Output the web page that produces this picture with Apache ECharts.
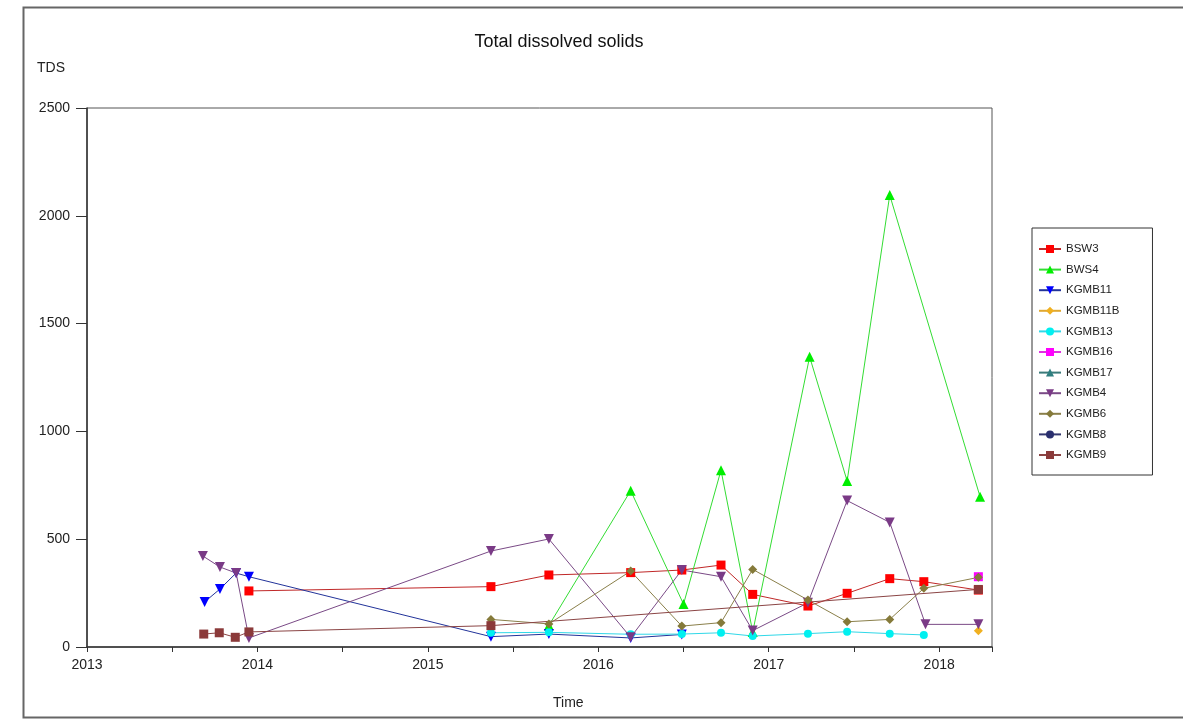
<!DOCTYPE html>
<html>
<head>
<meta charset="utf-8">
<script src="https://cdn.jsdelivr.net/npm/echarts@6/dist/echarts.min.js"></script>
<style>
html,body{margin:0;padding:0;background:#fff;}
#chart{width:1183px;height:719px;}
</style>
</head>
<body>
<div id="chart"></div>
<script>
// ---- data (decimal years, TDS) ----
const yearTicks = [2013, 2014, 2015, 2016, 2017, 2018];
const tdsTicks = [0, 500, 1000, 1500, 2000, 2500];

const bsw3Time = [2013.95, 2015.37, 2015.71, 2016.19, 2016.49, 2016.72, 2016.906, 2017.23, 2017.46, 2017.71, 2017.91, 2018.23];
const bsw3Tds  = [260, 280, 334, 345, 357, 380, 244, 190, 249, 317, 303, 264];

const bws4Time = [2015.71, 2016.19, 2016.5, 2016.72, 2016.906, 2017.24, 2017.46, 2017.71, 2018.24];
const bws4Tds  = [100, 725, 199, 820, 70, 1346, 770, 2096, 697];

const kgmb11Time = [2013.69, 2013.78, 2013.875, 2013.95, 2015.37, 2015.71, 2016.19, 2016.49];
const kgmb11Tds  = [209, 269, 343, 326, 48, 60, 42, 58];

const kgmb11bTime = [2018.23];
const kgmb11bTds  = [75];

const kgmb13Time = [2015.37, 2015.71, 2016.19, 2016.49, 2016.72, 2016.906, 2017.23, 2017.46, 2017.71, 2017.91];
const kgmb13Tds  = [66, 68, 59, 60, 66, 51, 62, 71, 62, 56];

const kgmb16Time = [2018.23];
const kgmb16Tds  = [326];

const kgmb17Time = [];
const kgmb17Tds  = [];

const kgmb4Time = [2013.68, 2013.78, 2013.875, 2013.95, 2015.37, 2015.71, 2016.19, 2016.49, 2016.72, 2016.906, 2017.23, 2017.46, 2017.71, 2017.92, 2018.23];
const kgmb4Tds  = [422, 371, 343, 42, 445, 501, 45, 357, 326, 76, 205, 679, 578, 105, 105];

const kgmb6Time = [2015.37, 2015.71, 2016.19, 2016.49, 2016.72, 2016.906, 2017.23, 2017.46, 2017.71, 2017.91, 2018.23];
const kgmb6Tds  = [128, 107, 352, 97, 113, 360, 218, 117, 128, 272, 323];

const kgmb8Time = [];
const kgmb8Tds  = [];

const kgmb9Time = [2013.685, 2013.776, 2013.87, 2013.95, 2015.37, 2018.23];
const kgmb9Tds  = [60, 66, 45, 70, 99, 267];

function zip(t, v) { return t.map((x, i) => [x, v[i]]); }

const seriesDefs = [
  { name: 'BSW3',    t: bsw3Time,    v: bsw3Tds,    sym: 'rect',     rot: 0,   size: 9,  mc: '#ff0000', lc: '#c02828' },
  { name: 'BWS4',    t: bws4Time,    v: bws4Tds,    sym: 'triangle', rot: 0,   size: 10, mc: '#00ee00', lc: '#33dd33' },
  { name: 'KGMB11',  t: kgmb11Time,  v: kgmb11Tds,  sym: 'triangle', rot: 180, size: 10, mc: '#0000ff', lc: '#22339a' },
  { name: 'KGMB11B', t: kgmb11bTime, v: kgmb11bTds, sym: 'diamond',  rot: 0,   size: 9,  mc: '#f0b020', lc: '#e0a830' },
  { name: 'KGMB13',  t: kgmb13Time,  v: kgmb13Tds,  sym: 'circle',   rot: 0,   size: 8,  mc: '#00f0f0', lc: '#30d8e8' },
  { name: 'KGMB16',  t: kgmb16Time,  v: kgmb16Tds,  sym: 'rect',     rot: 0,   size: 9,  mc: '#ff00ff', lc: '#e030e0' },
  { name: 'KGMB17',  t: kgmb17Time,  v: kgmb17Tds,  sym: 'triangle', rot: 0,   size: 10, mc: '#2f7f80', lc: '#3a7a7a' },
  { name: 'KGMB4',   t: kgmb4Time,   v: kgmb4Tds,   sym: 'triangle', rot: 180, size: 10, mc: '#7a3a86', lc: '#7a4a86' },
  { name: 'KGMB6',   t: kgmb6Time,   v: kgmb6Tds,   sym: 'diamond',  rot: 0,   size: 9,  mc: '#857a3a', lc: '#8a7f4a' },
  { name: 'KGMB8',   t: kgmb8Time,   v: kgmb8Tds,   sym: 'circle',   rot: 0,   size: 8,  mc: '#2a2f6e', lc: '#34386e' },
  { name: 'KGMB9',   t: kgmb9Time,   v: kgmb9Tds,   sym: 'rect',     rot: 0,   size: 9,  mc: '#8b3a3a', lc: '#8b4545' }
];

const chart = echarts.init(document.getElementById('chart'), null, { renderer: 'canvas' });

const option = {
  backgroundColor: '#ffffff',
  animation: false,
  textStyle: { fontFamily: 'Liberation Sans, Arial, sans-serif' },
  title: {
    text: 'Total dissolved solids',
    left: 554, top: 28, textAlign: 'center',
    textStyle: { fontSize: 18, fontWeight: 'normal', color: '#111', fontFamily: 'Liberation Sans, Arial, sans-serif' }
  },
  graphic: [
    { type: 'rect', silent: true, shape: { x: 23.5, y: 7.5, width: 1175, height: 710 },
      style: { fill: 'none', stroke: '#666', lineWidth: 2 }, z: -10 },
    { type: 'text', left: 37, top: 61,
      style: { text: 'TDS', fontSize: 14, fill: '#222', fontFamily: 'Liberation Sans, Arial, sans-serif' } },
    { type: 'text', left: 553, top: 696,
      style: { text: 'Time', fontSize: 14, fill: '#222', fontFamily: 'Liberation Sans, Arial, sans-serif' } }
  ],
  legend: {
    orient: 'vertical',
    left: 1032, top: 228,
    padding: [15, 33, 14, 6],
    borderColor: '#333', borderWidth: 1,
    itemWidth: 22, itemHeight: 10, itemGap: 8.6,
    textStyle: { fontSize: 11.5, color: '#222', fontFamily: 'Liberation Sans, Arial, sans-serif' },
    data: seriesDefs.map(s => s.name)
  },
  grid: {
    left: 87, top: 108, width: 905, height: 539,
    show: true, borderColor: '#555', borderWidth: 1, backgroundColor: 'transparent'
  },
  xAxis: {
    type: 'value',
    min: yearTicks[0], max: 2018.31, interval: 1,
    axisLine: { lineStyle: { color: '#333', width: 1.5 } },
    axisTick: { show: true, length: 5, lineStyle: { color: '#333' } },
    minorTick: { show: true, splitNumber: 2, length: 5, lineStyle: { color: '#333' } },
    splitLine: { show: false },
    axisLabel: { fontSize: 14, color: '#222', margin: 11,
      formatter: v => (yearTicks.indexOf(v) >= 0 ? String(v) : '') }
  },
  yAxis: {
    type: 'value',
    min: tdsTicks[0], max: tdsTicks[tdsTicks.length - 1], interval: 500,
    axisLine: { show: true, lineStyle: { color: '#333', width: 1.5 } },
    axisTick: { show: true, length: 11, lineStyle: { color: '#333' } },
    splitLine: { show: false },
    axisLabel: { fontSize: 14, color: '#222', margin: 17,
      formatter: v => String(v) }
  },
  series: seriesDefs.map(s => ({
    name: s.name,
    type: 'line',
    data: zip(s.t, s.v),
    symbol: s.sym,
    symbolRotate: s.rot,
    symbolSize: s.size,
    showAllSymbol: true,
    itemStyle: { color: s.mc },
    lineStyle: { color: s.lc, width: 1 },
    emphasis: { disabled: true }
  }))
};

chart.setOption(option);
</script>
</body>
</html>
